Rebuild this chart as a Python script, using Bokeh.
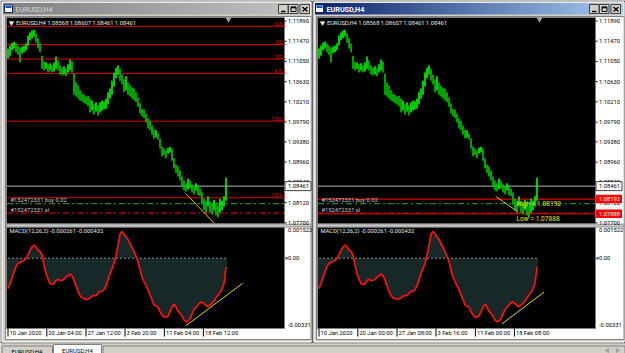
from bokeh.plotting import figure
from bokeh.models import Range1d
from bokeh.core.properties import value
from bokeh.embed import file_html
from bokeh.resources import INLINE

# ---------------- data ----------------
bar_high = [1.1132, 1.1138, 1.1144, 1.1146, 1.1142, 1.1138, 1.1134, 1.1136, 1.1138, 1.1142,
            1.1159, 1.1165, 1.1169, 1.1171, 1.1163, 1.1153, 1.1142, 1.1117, 1.1105, 1.1103,
            1.1099, 1.1101, 1.1097, 1.1103, 1.1115, 1.1107, 1.1097, 1.1092, 1.1095, 1.1090,
            1.1099, 1.1109, 1.1105, 1.1080, 1.1061, 1.1055, 1.1045, 1.1038, 1.1036, 1.1032,
            1.1034, 1.1028, 1.1024, 1.1016, 1.1020, 1.1014, 1.1020, 1.1024, 1.1022, 1.1028,
            1.1041, 1.1049, 1.1065, 1.1082, 1.1092, 1.1097, 1.1090, 1.1078, 1.1068, 1.1074,
            1.1061, 1.1055, 1.1051, 1.1049, 1.1041, 1.1030, 1.1018, 1.1007, 1.1005, 1.0997,
            1.0987, 1.0982, 1.0972, 1.0964, 1.0962, 1.0955, 1.0945, 1.0928, 1.0924, 1.0920,
            1.0926, 1.0928, 1.0924, 1.0904, 1.0891, 1.0887, 1.0879, 1.0866, 1.0858, 1.0852,
            1.0862, 1.0858, 1.0850, 1.0845, 1.0852, 1.0848, 1.0841, 1.0833, 1.0820, 1.0816,
            1.0825, 1.0814, 1.0810, 1.0818, 1.0812, 1.0806, 1.0820, 1.0816, 1.0825, 1.0864]
bar_low = [1.1111, 1.1117, 1.1128, 1.1132, 1.1124, 1.1119, 1.1103, 1.1122, 1.1124, 1.1128,
           1.1138, 1.1149, 1.1153, 1.1157, 1.1144, 1.1132, 1.1124, 1.1090, 1.1086, 1.1090,
           1.1082, 1.1086, 1.1082, 1.1084, 1.1090, 1.1086, 1.1078, 1.1076, 1.1078, 1.1074,
           1.1082, 1.1086, 1.1082, 1.1036, 1.1032, 1.1028, 1.1024, 1.1022, 1.1018, 1.1016,
           1.1012, 1.0999, 1.1003, 1.0995, 1.1001, 1.0993, 1.0999, 1.1003, 1.1005, 1.1007,
           1.1016, 1.1028, 1.1036, 1.1053, 1.1070, 1.1078, 1.1065, 1.1057, 1.1041, 1.1045,
           1.1036, 1.1032, 1.1028, 1.1024, 1.1020, 1.1011, 1.0997, 1.0991, 1.0987, 1.0978,
           1.0966, 1.0962, 1.0953, 1.0945, 1.0947, 1.0943, 1.0924, 1.0908, 1.0910, 1.0904,
           1.0914, 1.0916, 1.0899, 1.0883, 1.0874, 1.0866, 1.0858, 1.0845, 1.0837, 1.0835,
           1.0839, 1.0841, 1.0833, 1.0829, 1.0837, 1.0827, 1.0825, 1.0808, 1.0796, 1.0791,
           1.0804, 1.0791, 1.0787, 1.0796, 1.0785, 1.0781, 1.0791, 1.0796, 1.0804, 1.0816]
macd_vals = [-0.00149, -0.00124, -0.00095, -0.00065, -0.00041, -0.00024, -0.00021, -0.00016, -0.00011, -0.00003,
             0.00018, 0.00038, 0.00055, 0.00065, 0.00055, 0.00040, 0.00033, 0.00016, -0.00031, -0.00075,
             -0.00102, -0.00124, -0.00129, -0.00124, -0.00109, -0.00102, -0.00109, -0.00109, -0.00102, -0.00092,
             -0.00085, -0.00077, -0.00085, -0.00107, -0.00134, -0.00161, -0.00183, -0.00193, -0.00198, -0.00201,
             -0.00200, -0.00195, -0.00185, -0.00183, -0.00183, -0.00171, -0.00162, -0.00162, -0.00153, -0.00134,
             -0.00104, -0.00075, -0.00051, -0.00026, 0.00013, 0.00062, 0.00119, 0.00131, 0.00119, 0.00104,
             0.00092, 0.00072, 0.00052, 0.00033, 0.00008, -0.00016, -0.00055, -0.00092, -0.00114, -0.00134,
             -0.00153, -0.00178, -0.00202, -0.00229, -0.00234, -0.00239, -0.00261, -0.00278, -0.00288, -0.00288,
             -0.00283, -0.00261, -0.00239, -0.00224, -0.00239, -0.00259, -0.00269, -0.00283, -0.00303, -0.00310,
             -0.00308, -0.00296, -0.00273, -0.00251, -0.00239, -0.00229, -0.00217, -0.00215, -0.00222, -0.00232,
             -0.00237, -0.00229, -0.00220, -0.00210, -0.00193, -0.00180, -0.00168, -0.00151, -0.00124, -0.00043]

price_ticks = [1.11890, 1.11470, 1.11050, 1.10630, 1.10210, 1.09790, 1.09380, 1.08960, 1.08540, 1.08120, 1.07700]
price_tick_labels = ["1.11890", "1.11470", "1.11050", "1.10630", "1.10210", "1.09790",
                     "1.09380", "1.08960", "1.08540", "1.08120", "1.07700"]
macd_ticks = [0.001522, 0.0, -0.00331]
macd_tick_labels = ["0.001522", "0.00", "-0.00331"]
time_tick_pos = [0, 19.4, 39.0, 58.5, 78.2, 97.7]
time_labels_left = ["10 Jan 2020", "20 Jan 04:00", "27 Jan 12:00", "3 Feb 20:00", "11 Feb 04:00", "18 Feb 12:00"]
time_labels_right = ["10 Jan 2020", "20 Jan 00:00", "27 Jan 08:00", "3 Feb 16:00", "11 Feb 00:00", "18 Feb 08:00"]

fib_labels = ["23.6", "38.2", "50.0", "61.8", "100.0", "161.8"]
fib_prices = [1.1178, 1.1140, 1.1110, 1.1080, 1.0981, 1.0822]

symbol = "EURUSD,H4"
header_ohlc = "1.08568 1.08607 1.08461 1.08461"
macd_header = "MACD(12,26,2) -0.000261 -0.000432"
current_price = 1.08461
order_buy = 1.0810
order_sl = 1.0790
order_buy_label = "#152472331 buy 0.02"
order_sl_label = "#152472331 sl"
range_high = 1.08192
range_low = 1.07888

price_trend_left = ([89.0, 103.2], [1.0830, 1.0769])
price_trend_right = ([88.3, 99.0], [1.0825, 1.0794])
macd_trend_left = ([89.0, 117.3], [-0.00330, -0.00123])
macd_trend_right = ([91.5, 112.5], [-0.00321, -0.00166])

idx = list(range(len(bar_high)))
mids = [(h + l) / 2 for h, l in zip(bar_high, bar_low)]
bar_colors = ["#00ff00" if k == 0 or mids[k] >= mids[k - 1] else "#00c800" for k in idx]

# ---------------- canvas ----------------
W, H = 625, 353
FONT = value("Roboto")
p = figure(width=W, height=H, x_range=Range1d(0, W), y_range=Range1d(H, 0),
           output_backend="svg", toolbar_location=None, min_border=0,
           x_axis_location=None, y_axis_location=None)
p.grid.visible = False
p.outline_line_color = None
p.background_fill_color = "#d4d0c8"
p.border_fill_color = "#d4d0c8"


def xr(pa, pb, va, vb):
    s = (vb - va) / (pb - pa)
    return Range1d(start=va - pa * s, end=va + (W - pa) * s)


def yr(pt, pb, vt, vb):
    s = (vb - vt) / (pb - pt)
    return Range1d(start=vt + (H - pt) * s, end=vt - pt * s)


DX = 311
p.extra_x_ranges = {"xL": xr(6.5, 284.5, -0.5, 138.5), "xR": xr(6.5 + DX, 284.5 + DX, -0.5, 138.5)}
p.extra_y_ranges = {"price": yr(17, 223.5, 1.11962, 1.07675), "macd": yr(226.5, 328, 0.00153, -0.00344)}


def txt(x, y, s, color, size="5.8px", align="left", baseline="middle", bold=False,
        xn="default", yn="default", yoff=0):
    p.text(x=[x], y=[y], text=[s], text_color=color, text_font=FONT,
           text_font_size=value(size), text_align=align, text_baseline=baseline,
           text_font_style="bold" if bold else "normal", x_range_name=xn, y_range_name=yn,
           y_offset=yoff)


def hexmix(c0, c1, t):
    a = [int(c0[i:i + 2], 16) for i in (1, 3, 5)]
    b = [int(c1[i:i + 2], 16) for i in (1, 3, 5)]
    return "#%02x%02x%02x" % tuple(int(round(a[i] + (b[i] - a[i]) * t)) for i in range(3))


def gradient(x0, x1, y0, y1, c0, c1, n=48):
    step = (x1 - x0) / n
    lefts = [x0 + k * step for k in range(n)]
    rights = [l + step + 0.6 for l in lefts]
    rights[-1] = x1
    cols = [hexmix(c0, c1, k / (n - 1)) for k in range(n)]
    p.quad(left=lefts, right=rights, top=y0, bottom=y1, fill_color=cols, line_color=None)


def window(dx, frame_l, frame_r, active, tlabels, xn, mode):
    X = lambda v: v + dx
    # frame
    p.quad(left=frame_l + 0.5, right=frame_r - 0.5, top=0.5, bottom=342.5,
           fill_color="#d4d0c8", line_color="#404040")
    p.quad(left=frame_l + 1.5, right=frame_r - 1.5, top=1.5, bottom=341.5,
           fill_color=None, line_color="#ffffff")
    c0, c1 = ("#0a246a", "#a6caf0") if active else ("#808080", "#c4c4c4")
    gradient(frame_l + 2.5, frame_r - 2.5, 2.5, 14, c0, c1)
    # icon
    p.quad(left=X(4), right=X(12), top=4.5, bottom=12, fill_color="#ffffff", line_color="#0a246a")
    p.quad(left=X(5), right=X(11), top=5.5, bottom=7.5, fill_color="#2050c0", line_color=None)
    txt(X(15), 8.5, symbol, "#ffffff" if active else "#dcdcdc", size="7.2px", bold=active)
    # buttons
    for bx in (278, 288, 299.5):
        p.quad(left=X(bx), right=X(bx + 9.5), top=4, bottom=13, fill_color="#d4d0c8", line_color="#404040")
    p.segment(x0=[X(280.5)], y0=[11], x1=[X(285)], y1=[11], line_color="black", line_width=1.5)
    p.quad(left=X(290.5), right=X(295.5), top=6.5, bottom=11, fill_color=None, line_color="black")
    p.segment(x0=[X(290.5)], y0=[7], x1=[X(295.5)], y1=[7], line_color="black", line_width=1.5)
    p.segment(x0=[X(302), X(302)], y0=[6.5, 11], x1=[X(307), X(307)], y1=[11, 6.5],
              line_color="black", line_width=1.4)
    # client (white) + black panes
    p.quad(left=X(5), right=frame_r - 1.5, top=16, bottom=339, fill_color="#ffffff", line_color="#808080")
    p.quad(left=X(6), right=X(284), top=17, bottom=223.5, fill_color="#000000", line_color="#808080")
    p.quad(left=X(6), right=X(284), top=226.5, bottom=328, fill_color="#000000", line_color="#808080")
    p.quad(left=X(6), right=frame_r - 1.5, top=223.5, bottom=226.5, fill_color="#c8c8c8", line_color="#909090")

    # ---- price pane ----
    x0s, x1s = [-0.5], [138.5]
    if mode == "fib":
        p.segment(x0=[-0.5] * len(fib_prices), x1=[138.5] * len(fib_prices), y0=fib_prices, y1=fib_prices,
                  x_range_name=xn, y_range_name="price", line_color="#e00000", line_width=1)
        p.text(x=[X(286)] * len(fib_prices), y=fib_prices, text=fib_labels, text_color="#e00000",
               text_font=FONT, text_font_size=value("6.2px"), text_align="right", text_baseline="bottom",
               y_range_name="price", y_offset=-0.5)
    p.segment(x0=x0s, x1=x1s, y0=[current_price], y1=[current_price], x_range_name=xn,
              y_range_name="price", line_color="#b4b4b4", line_width=1)
    p.segment(x0=x0s, x1=x1s, y0=[order_buy], y1=[order_buy], x_range_name=xn,
              y_range_name="price", line_color="#1e8c1e", line_width=1.2, line_dash="6 3 2 3")
    p.segment(x0=x0s, x1=x1s, y0=[order_sl], y1=[order_sl], x_range_name=xn,
              y_range_name="price", line_color="#d00000", line_width=1.2, line_dash="6 3 2 3")
    if mode == "hl":
        p.segment(x0=x0s * 2, x1=x1s * 2, y0=[range_high, range_low], y1=[range_high, range_low],
                  x_range_name=xn, y_range_name="price", line_color="#e00000", line_width=1.2)
    txt(X(10), order_buy, order_buy_label, "#c8c8c8", yn="price", baseline="bottom", yoff=-0.5)
    txt(X(10), order_sl, order_sl_label, "#c8c8c8", yn="price", baseline="bottom", yoff=-0.5)
    p.segment(x0=idx, x1=idx, y0=bar_low, y1=bar_high, x_range_name=xn, y_range_name="price",
              line_color=bar_colors, line_width=1.6)
    tr = price_trend_left if mode == "fib" else price_trend_right
    p.line(x=tr[0], y=tr[1], x_range_name=xn, y_range_name="price", line_color="#d8d000", line_width=1)
    if mode == "hl":
        txt(X(205), range_high, "High = %.5f" % range_high, "#e8e800", size="6.6px", yn="price",
            baseline="top", yoff=1)
        txt(X(205), range_low, "Low = %.5f" % range_low, "#e8e800", size="6.6px", yn="price",
            baseline="top", yoff=1)
    p.scatter(x=[X(11)], y=[22.5], marker="inverted_triangle", size=4, color="#e0e0e0")
    txt(X(15.5), 22.5, symbol + "  " + header_ohlc, "#e6e6e6")
    p.scatter(x=[X(228)], y=[18.5], marker="inverted_triangle", size=5, color="#a0a0a0")

    # ---- MACD pane ----
    p.segment(x0=idx, x1=idx, y0=[0] * len(idx), y1=macd_vals, x_range_name=xn, y_range_name="macd",
              line_color="#2e5050", line_width=1)
    p.segment(x0=[idx[0]], x1=[idx[-1]], y0=[0], y1=[0], x_range_name=xn, y_range_name="macd",
              line_color="#8a8a8a", line_width=1, line_dash="2 2")
    p.line(x=idx, y=macd_vals, x_range_name=xn, y_range_name="macd", line_color="#ff1010", line_width=1.7)
    mt = macd_trend_left if mode == "fib" else macd_trend_right
    p.line(x=mt[0], y=mt[1], x_range_name=xn, y_range_name="macd", line_color="#e0e000", line_width=1)
    txt(X(9), 230.5, macd_header, "#e6e6e6")

    # ---- axis strips ----
    p.quad(left=X(284.5), right=frame_r - 2, top=16.5, bottom=223, fill_color="#ffffff", line_color=None)
    p.segment(x0=[X(284)] * len(price_ticks), x1=[X(286)] * len(price_ticks), y0=price_ticks, y1=price_ticks,
              y_range_name="price", line_color="#000000")
    p.text(x=[X(287.5)] * len(price_ticks), y=price_ticks, text=price_tick_labels, text_color="#000000",
           text_font=FONT, text_font_size=value("5.8px"), text_baseline="middle", y_range_name="price")
    p.rect(x=[X(297.5)], y=[current_price], width=26, height=9, width_units="screen", height_units="screen",
           y_range_name="price", fill_color="#ffffff", line_color="#404040")
    txt(X(287.5), current_price, "%.5f" % current_price, "#000000", yn="price")
    if mode == "hl":
        p.rect(x=[X(297.5)] * 2, y=[range_high, range_low], width=26, height=8.5, width_units="screen",
               height_units="screen", y_range_name="price", fill_color="#ff0000", line_color=None)
        p.text(x=[X(287.5)] * 2, y=[range_high, range_low], text=["%.5f" % range_high, "%.5f" % range_low],
               text_color="#ffffff", text_font=FONT, text_font_size=value("5.8px"), text_baseline="middle",
               y_range_name="price")
    # macd axis
    p.text(x=[X(287.5)] * 3, y=macd_ticks, text=macd_tick_labels, text_color="#000000", text_font=FONT,
           text_font_size=value("5.8px"), text_baseline=["top", "middle", "middle"], y_range_name="macd",
           y_offset=[0.5, 0, -1])
    p.rect(x=[X(286)], y=[0], width=2.5, height=2.5, width_units="screen", height_units="screen",
           y_range_name="macd", fill_color="#5070a0", line_color=None)
    # time axis
    p.segment(x0=time_tick_pos, x1=time_tick_pos, y0=[328] * 6, y1=[336] * 6, x_range_name=xn,
              line_color="#000000")
    p.text(x=time_tick_pos, y=[332.5] * 6, text=tlabels, text_color="#000000", text_font=FONT,
           text_font_size=value("5.8px"), text_baseline="middle", x_range_name=xn, x_offset=1.5)


window(0, 0, 312, False, time_labels_left, "xL", "fib")
window(DX, 312, 625, True, time_labels_right, "xR", "hl")

# ---------------- tab bar ----------------
p.quad(left=0, right=625, top=343, bottom=353, fill_color="#d4d0c8", line_color=None)
p.quad(left=1.5, right=52, top=345.5, bottom=353.5, fill_color="#d4d0c8", line_color="#808080")
p.quad(left=53, right=101, top=344, bottom=353.5, fill_color="#ffffff", line_color="#808080")
p.quad(left=102.5, right=624.5, top=345.5, bottom=353.5, fill_color="#d4d0c8", line_color="#808080")
txt(26.5, 350.5, symbol, "#000000", size="6px", align="center")
txt(77, 350, symbol, "#000000", size="6px", align="center")
p.scatter(x=[607, 617], y=[350, 350], marker="triangle", angle=[1.5708, -1.5708], size=4, color="#a0a0a0")

open("out.html", "w").write(file_html(p, INLINE))
